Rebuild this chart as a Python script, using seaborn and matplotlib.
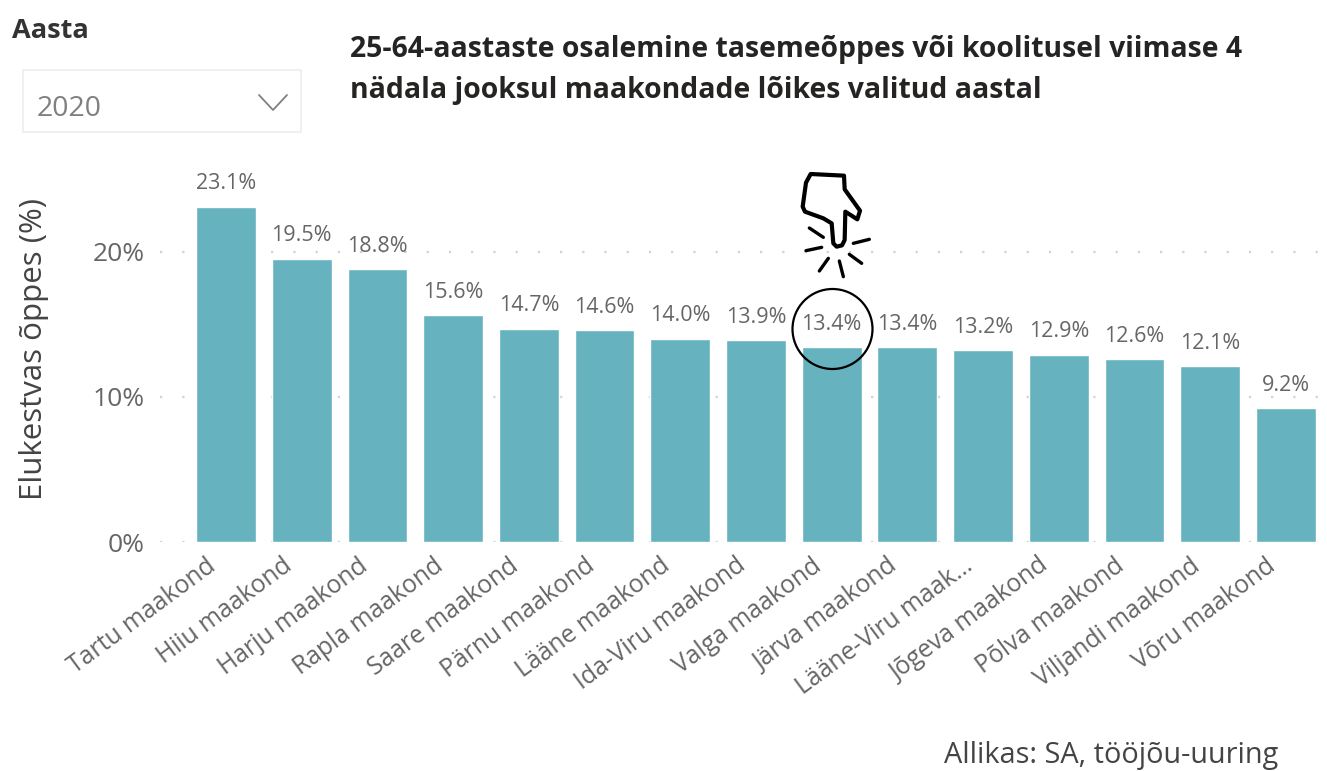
import matplotlib
matplotlib.use("Agg")
import matplotlib.pyplot as plt
from matplotlib.lines import Line2D
from matplotlib.patches import Circle, Polygon, Rectangle
from matplotlib.transforms import Affine2D, ScaledTranslation
import pandas as pd
import seaborn as sns

W, H = 1327, 771

counties = ["Tartu maakond", "Hiiu maakond", "Harju maakond", "Rapla maakond", "Saare maakond",
            "Pärnu maakond", "Lääne maakond", "Ida-Viru maakond", "Valga maakond", "Järva maakond",
            "Lääne-Viru maak…", "Jõgeva maakond", "Põlva maakond", "Viljandi maakond", "Võru maakond"]
values = [23.1, 19.5, 18.8, 15.6, 14.7, 14.6, 14.0, 13.9, 13.4, 13.4, 13.2, 12.9, 12.6, 12.1, 9.2]
y_ticks = [0, 10, 20]
y_label = "Elukestvas õppes (%)"
title_lines = ["25-64-aastaste osalemine tasemeõppes või koolitusel viimase 4",
               "nädala jooksul maakondade lõikes valitud aastal"]
slicer_title = "Aasta"
slicer_value = "2020"
source = "Allikas: SA, tööjõu-uuring"

sns.set_theme(style="white")
plt.rcParams["font.family"] = ["Open Sans", "DejaVu Sans"]

GREY = "#666666"
df = pd.DataFrame({"county": counties, "value": values})

fig = plt.figure(figsize=(W / 100, H / 100), dpi=100, facecolor="white")
# axes box in pixels: left 160, right 1322, 0 % at y=542, top at y=160
ax = fig.add_axes([160 / W, 1 - 542 / H, (1322 - 160) / W, (542 - 160) / H])
sns.barplot(data=df, x="county", y="value", color="#66B2BF", saturation=1, width=0.79, ax=ax, zorder=3)

step = 75.71
ax.set_xlim(-(226 - 160) / step, (1322 - 226) / step)
ax.set_ylim(0, (542 - 160) / 14.52)
ax.set_xlabel("")
ax.set_ylabel(y_label, fontsize=22.5, color="#444444", labelpad=0)
ax.yaxis.set_label_coords((49 - 160) / (1322 - 160), (542 - 349) / (542 - 160))
ax.set_yticks(y_ticks, [f"{t}%" for t in y_ticks])
ax.tick_params(axis="y", length=0, labelsize=19, labelcolor=GREY, pad=11)
ax.tick_params(axis="x", length=0, labelsize=17.8, labelcolor=GREY, pad=8)
shift = ScaledTranslation(-20 / 100, 0, fig.dpi_scale_trans)
for lab in ax.get_xticklabels():
    lab.set_rotation(36.5)
    lab.set_ha("right")
    lab.set_rotation_mode("anchor")
    lab.set_transform(lab.get_transform() + shift)
ax.grid(axis="y", color="#D2D2D2", linestyle=(0, (1, 9)), linewidth=1.6, zorder=1)
sns.despine(ax=ax, left=True, bottom=True)

for container in ax.containers:
    ax.bar_label(container, labels=[f"{v:.1f}%" for v in values], padding=9, fontsize=15.5, color=GREY)

# everything below is placed in image pixels
px = Affine2D().scale(1, -1).translate(0, H)

def zoomed(x, y):
    return 770 + x / 3, 160 + y / 3

fig.text(12 / W, 1 - 38 / H, slicer_title, fontsize=19.5, fontweight="bold", color="#333333", va="baseline")
fig.add_artist(Rectangle((23, 70), 278, 62, transform=px, fill=False, ec="#EDEDED", lw=1.2))
fig.text(37 / W, 1 - 116 / H, slicer_value, fontsize=20.5, color="#808080", va="baseline")
fig.add_artist(Line2D([259, 273, 287], [95, 110, 95], transform=px, color="#808080", lw=1.3))

for i, line in enumerate(title_lines):
    fig.text(350 / W, 1 - (57 + 41 * i) / H, line, fontsize=20.4, fontweight="bold", color="#252423", va="baseline")

fig.text(1278 / W, 1 - 755 / H, source, fontsize=20.8, color="#444444", va="center", ha="right")

# call-out drawn on top of the chart: circle, pointing hand and sparks
fig.add_artist(Circle((832.5, 329), 40, transform=px, fill=False, ec="black", lw=1.6, zorder=10))
hand = [(122, 42), (222, 47), (224, 88), (270, 152), (262, 178), (226, 155), (224, 240), (216, 256),
        (200, 260), (190, 250), (185, 190), (160, 175), (105, 155), (98, 140), (108, 68)]
fig.add_artist(Polygon([zoomed(*p) for p in hand], closed=True, transform=px, fc="white", ec="black",
                       lw=3, joinstyle="round", zorder=10))
rays = [((118, 204), (160, 232)), ((108, 272), (155, 262)), ((250, 250), (298, 238)),
        ((238, 283), (275, 310)), ((175, 295), (148, 333)), ((208, 303), (220, 350))]
for a, b in rays:
    (x0, y0), (x1, y1) = zoomed(*a), zoomed(*b)
    fig.add_artist(Line2D([x0, x1], [y0, y1], transform=px, color="black", lw=2.4, zorder=10))

fig.savefig("out.png", dpi=100, facecolor="white")
